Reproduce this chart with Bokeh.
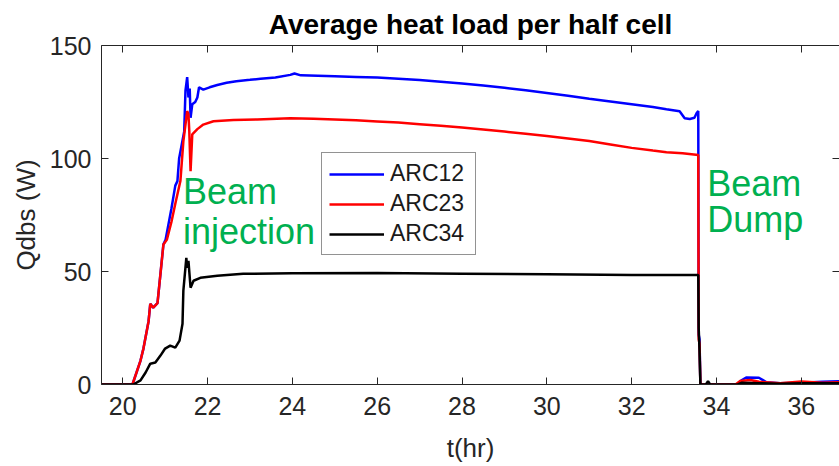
from bokeh.plotting import figure
from bokeh.models import LinearAxis, FixedTicker, Range1d
from bokeh.core.properties import value
from bokeh.embed import file_html
from bokeh.resources import INLINE

# ---------------- data ----------------
title_text = "Average heat load per half cell"
x_label = "t(hr)"
y_label = "Qdbs (W)"
x_ticks = [20, 22, 24, 26, 28, 30, 32, 34, 36]
y_ticks = [0, 50, 100, 150]
series_names = ["ARC12", "ARC23", "ARC34"]

t_arc12 = [19.50, 20.23, 20.42, 20.49, 20.61, 20.65, 20.72, 20.82, 20.89, 20.96,
           21.01, 21.15, 21.24, 21.29, 21.33, 21.41, 21.45, 21.48, 21.52, 21.55,
           21.58, 21.60, 21.64, 21.71, 21.76, 21.80, 21.90, 22.05, 22.23, 22.45,
           22.68, 23.00, 23.25, 23.60, 23.95, 24.05, 24.20, 24.60, 25.00, 25.50,
           26.00, 26.50, 27.00, 27.50, 28.00, 28.50, 29.00, 29.50, 30.00, 30.50,
           31.00, 31.50, 32.00, 32.50, 32.82, 33.13, 33.25, 33.37, 33.48, 33.53,
           33.57, 33.58, 33.60, 33.62, 34.50, 34.60, 34.70, 35.00, 35.18, 35.50,
           36.00, 36.50, 36.90]
q_arc12 = [0.0, 0.0, 10.6, 16.0, 28.0, 35.7, 34.0, 36.0, 49.0, 62.0,
           64.0, 78.0, 88.0, 90.0, 100.0, 108.0, 112.0, 130.0, 136.0, 127.0,
           131.0, 118.0, 124.0, 125.0, 127.0, 131.5, 130.5, 131.5, 132.5, 133.5,
           134.2, 134.8, 135.3, 135.8, 137.0, 137.6, 136.8, 136.6, 136.4, 136.1,
           135.8, 135.3, 134.7, 134.0, 133.2, 132.3, 131.3, 130.2, 129.0, 127.8,
           126.4, 125.2, 124.0, 122.8, 121.8, 120.9, 117.8, 117.5, 118.0, 120.0,
           121.0, 22.0, 20.0, 0.0, 0.0, 2.0, 3.1, 3.0, 1.0, 0.5,
           0.8, 1.2, 1.5]

t_arc23 = [19.50, 20.23, 20.42, 20.49, 20.61, 20.65, 20.72, 20.82, 20.89, 20.96,
           21.04, 21.15, 21.24, 21.36, 21.43, 21.52, 21.55, 21.57, 21.60, 21.64,
           21.76, 21.90, 22.14, 22.61, 23.17, 23.95, 24.50, 25.00, 25.50, 26.00,
           26.50, 27.00, 27.50, 28.00, 28.50, 29.00, 29.50, 30.00, 30.50, 31.00,
           31.50, 32.00, 32.50, 32.82, 33.20, 33.57, 33.58, 33.60, 33.62, 34.45,
           34.55, 34.80, 35.00, 35.50, 36.00, 36.50, 36.90]
q_arc23 = [0.0, 0.0, 10.6, 16.0, 28.0, 35.7, 34.0, 36.0, 49.0, 62.0,
           64.0, 72.0, 80.0, 90.0, 107.6, 121.0, 119.6, 112.0, 94.4, 110.7,
           113.0, 115.0, 116.5, 117.0, 117.3, 117.8, 117.6, 117.3, 116.9, 116.4,
           115.9, 115.2, 114.5, 113.7, 112.8, 111.9, 111.0, 110.0, 108.9, 107.7,
           106.2, 104.7, 103.5, 102.8, 102.3, 101.5, 20.0, 18.0, 0.0, 0.0,
           1.5, 2.0, 1.2, 0.5, 1.3, 0.8, 1.0]

t_arc34 = [19.50, 20.25, 20.42, 20.54, 20.65, 20.77, 20.89, 21.00, 21.12, 21.24,
           21.34, 21.41, 21.43, 21.50, 21.52, 21.55, 21.60, 21.67, 21.83, 22.23,
           22.84, 24.00, 26.00, 28.00, 30.00, 32.00, 33.57, 33.58, 33.60, 33.62,
           33.75, 33.80, 33.85, 34.50, 34.60, 35.00, 35.50, 36.00, 36.90]
q_arc34 = [0.0, 0.0, 1.8, 5.3, 9.2, 9.7, 12.8, 15.9, 17.2, 16.3,
           19.4, 26.9, 41.5, 56.0, 51.6, 54.7, 42.8, 45.9, 47.2, 48.1,
           49.0, 49.2, 49.3, 49.0, 48.8, 48.5, 48.5, 25.0, 15.0, 0.0,
           0.0, 1.5, 0.0, 0.0, 0.8, 0.6, 0.3, 0.6, 0.6]

note_injection = ["Beam", "injection"]
note_dump = ["Beam", "Dump"]

# ---------------- styles / layout ----------------
FONT = "Liberation Sans"
AX = "#262626"
GREEN = "#00b050"

p = figure(width=839, height=466, output_backend="svg", toolbar_location=None,
           x_range=Range1d(19.5, 36.9), y_range=Range1d(0, 150),
           min_border_left=101, min_border_right=0, min_border_top=44,
           min_border_bottom=82, title=title_text)
p.background_fill_color = "white"
p.border_fill_color = "white"
p.outline_line_color = None
p.xgrid.visible = False
p.ygrid.visible = False

p.title.text_font = FONT
p.title.text_font_size = "28px"
p.title.text_font_style = "bold"
p.title.text_color = "#000000"
p.title.align = "center"
p.title.standoff = 12

def style_axis(ax, show_labels):
    ax.axis_line_color = AX
    ax.axis_line_width = 1
    ax.major_tick_line_color = AX
    ax.major_tick_in = 7
    ax.major_tick_out = 0
    ax.minor_tick_line_color = None
    ax.major_label_text_font = FONT
    if show_labels:
        ax.major_label_text_color = AX
        ax.major_label_text_font_size = "25px"
    else:
        ax.major_label_text_color = None
        ax.major_label_text_font_size = "1px"
        ax.major_label_standoff = 0
    ax.axis_label_text_font = FONT
    ax.axis_label_text_font_size = "26px"
    ax.axis_label_text_font_style = "normal"
    ax.axis_label_text_color = AX

xa = p.xaxis[0]
ya = p.yaxis[0]
xa.ticker = FixedTicker(ticks=x_ticks)
ya.ticker = FixedTicker(ticks=y_ticks)
style_axis(xa, True)
style_axis(ya, True)
xa.axis_label = x_label
ya.axis_label = y_label
xa.major_label_standoff = 12
xa.axis_label_standoff = 15
ya.major_label_standoff = 10
ya.axis_label_standoff = 6

top_ax = LinearAxis(ticker=FixedTicker(ticks=x_ticks))
style_axis(top_ax, False)
p.add_layout(top_ax, "above")
right_ax = LinearAxis(ticker=FixedTicker(ticks=y_ticks))
style_axis(right_ax, False)
right_ax.axis_line_color = None
p.add_layout(right_ax, "right")

p.line(t_arc12, q_arc12, line_color="#0000ff", line_width=2.5, legend_label=series_names[0])
p.line(t_arc23, q_arc23, line_color="#ff0000", line_width=2.5, legend_label=series_names[1])
p.line(t_arc34, q_arc34, line_color="#000000", line_width=2.5, legend_label=series_names[2])

# annotations (data coordinates)
p.text(x=[21.42, 21.42], y=[85.6, 67.5], text=note_injection, text_font=value(FONT),
       text_font_size="36px", text_color=GREEN, text_baseline="alphabetic", text_align="left")
p.text(x=[33.78, 33.78], y=[89.1, 72.8], text=note_dump, text_font=value(FONT),
       text_font_size="36px", text_color=GREEN, text_baseline="alphabetic", text_align="left")

lg = p.legend[0]
lg.location = (220, 129)
lg.border_line_color = AX
lg.border_line_width = 1
lg.background_fill_color = "white"
lg.background_fill_alpha = 1.0
lg.label_text_font = FONT
lg.label_text_font_size = "23px"
lg.label_text_color = "#1a1a1a"
lg.glyph_width = 55
lg.glyph_height = 24
lg.label_height = 24
lg.label_width = 78
lg.label_standoff = 6
lg.spacing = 3
lg.padding = 7
lg.margin = 0

open("out.html", "w").write(file_html(p, INLINE))
